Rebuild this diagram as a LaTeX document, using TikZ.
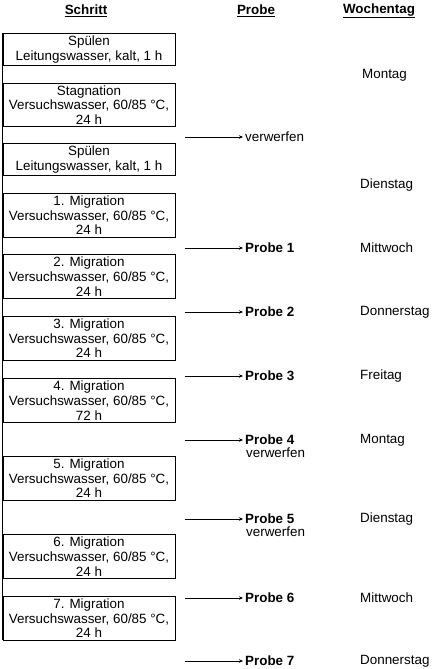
\documentclass[tikz,border=0pt]{standalone}
\usepackage{fontspec}
\setmainfont{Liberation Sans}
\usetikzlibrary{arrows.meta, positioning}

\begin{document}
\begin{tikzpicture}[
    x=1bp, y=-1bp,
    node distance=17bp,
    font=\fontsize{13.4bp}{14.6bp}\selectfont,
    stepbox/.style={rectangle, draw, line width=0.8bp, minimum width=172bp, inner xsep=2bp, inner ysep=2.4bp, align=center},
    probe/.style={anchor=west, inner xsep=2bp, inner ysep=1bp, font=\fontsize{13.4bp}{14.6bp}\selectfont\bfseries},
    note/.style={anchor=west, inner xsep=2bp, inner ysep=1bp},
    header/.style={inner sep=1bp, font=\fontsize{13.4bp}{14.6bp}\selectfont\bfseries},
    arrow/.style={-{Stealth[length=4bp, width=3.5bp]}, line width=0.7bp}
]
    \useasboundingbox (0,0) rectangle (432,669);

    % column heads
    \node[header] (hs) at (86,11) {\underline{Schritt}};
    \node[header] (hp) at (256,11) {\underline{Probe}};
    \node[header] (hw) at (379,11) {\underline{Wochentag}};

    % steps
    \node[stepbox, anchor=north] (s1) at (89,33) {Spülen\\Leitungswasser, kalt, 1 h};
    \node[stepbox, below=of s1] (s2) {Stagnation\\Versuchswasser, 60/85 °C,\\24 h};
    \node[stepbox, below=16bp of s2] (s3) {Spülen\\Leitungswasser, kalt, 1 h};
    \node[stepbox, below=of s3] (s4) {1. Migration\\Versuchswasser, 60/85 °C,\\24 h};
    \node[stepbox, below=of s4] (s5) {2. Migration\\Versuchswasser, 60/85 °C,\\24 h};
    \node[stepbox, below=of s5] (s6) {3. Migration\\Versuchswasser, 60/85 °C,\\24 h};
    \node[stepbox, below=18bp of s6] (s7) {4. Migration\\Versuchswasser, 60/85 °C,\\72 h};
    \node[stepbox, below=33bp of s7] (s8) {5. Migration\\Versuchswasser, 60/85 °C,\\24 h};
    \node[stepbox, below=34bp of s8] (s9) {6. Migration\\Versuchswasser, 60/85 °C,\\24 h};
    \node[stepbox, below=of s9] (s10) {7. Migration\\Versuchswasser, 60/85 °C,\\24 h};
    \draw[line width=0.8bp] (s1.north west) -- (s10.south west);

    % samples
    \coordinate (a0) at (185,137);
    \coordinate (a1) at (185,248);
    \coordinate (a2) at (185,312);
    \coordinate (a3) at (185,376);
    \coordinate (a4) at (185,440);
    \coordinate (a5) at (185,519);
    \coordinate (a6) at (185,598);
    \coordinate (a7) at (185,661);
    \node[note] (p0) at (243,137) {verwerfen};
    \node[probe] (p1) at (243,248) {Probe 1};
    \node[probe] (p2) at (243,312) {Probe 2};
    \node[probe] (p3) at (243,376) {Probe 3};
    \node[probe] (p4) at (243,440) {Probe 4};
    \node[probe] (p5) at (243,519) {Probe 5};
    \node[probe] (p6) at (243,598) {Probe 6};
    \node[probe] (p7) at (243,661) {Probe 7};
    \node[note, anchor=north west] (v4) at ([xshift=1bp]p4.south west) {verwerfen};
    \node[note, anchor=north west] (v5) at ([xshift=1bp]p5.south west) {verwerfen};
    \draw[arrow] (a0) -- (p0);
    \draw[arrow] (a1) -- (p1);
    \draw[arrow] (a2) -- (p2);
    \draw[arrow] (a3) -- (p3);
    \draw[arrow] (a4) -- (p4);
    \draw[arrow] (a5) -- (p5);
    \draw[arrow] (a6) -- (p6);
    \draw[arrow] (a7) -- (p7);

    % weekdays
    \node[note] (d0) at (360,75) {Montag};
    \node[note] (d1) at (358,185) {Dienstag};
    \node[note] (d2) at (358,248) {Mittwoch};
    \node[note] (d3) at (358,312) {Donnerstag};
    \node[note] (d4) at (358,376) {Freitag};
    \node[note] (d5) at (358,440) {Montag};
    \node[note] (d6) at (358,519) {Dienstag};
    \node[note] (d7) at (358,598) {Mittwoch};
    \node[note] (d8) at (358,661) {Donnerstag};
\end{tikzpicture}
\end{document}
